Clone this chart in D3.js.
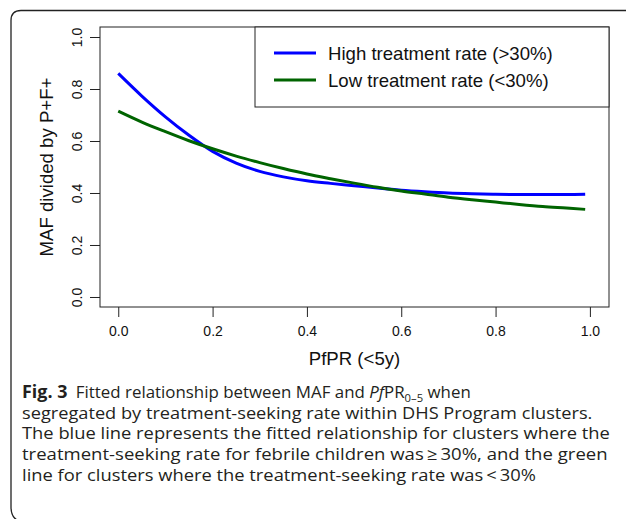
<!DOCTYPE html>
<html>
<head>
<meta charset="utf-8">
<script src="https://cdn.jsdelivr.net/npm/d3@7"></script>
<style>
  body { margin: 0; background: #fff; }
  svg { display: block; }
</style>
</head>
<body>
<div id="chart"></div>
<script>
var pfpr = [0, 0.05, 0.1, 0.15, 0.2, 0.25, 0.3, 0.35, 0.4, 0.45, 0.5,
            0.55, 0.6, 0.65, 0.7, 0.75, 0.8, 0.85, 0.9, 0.95, 0.99];
// high treatment rate (>30%), blue
var highRate = [0.860, 0.773, 0.693, 0.622, 0.560, 0.515, 0.483, 0.462, 0.447, 0.437, 0.428,
                0.419, 0.411, 0.405, 0.400, 0.397, 0.395, 0.394, 0.394, 0.394, 0.395];
// low treatment rate (<30%), green
var lowRate = [0.715, 0.673, 0.636, 0.601, 0.570, 0.542, 0.517, 0.494, 0.473, 0.455, 0.438,
               0.422, 0.408, 0.396, 0.384, 0.374, 0.365, 0.356, 0.348, 0.342, 0.337];

var seriesNames = ["High treatment rate (>30%)", "Low treatment rate (<30%)"];
var seriesColors = ["#0000ff", "#006400"];
var xTicks = [0, 0.2, 0.4, 0.6, 0.8, 1.0];
var yTicks = [0, 0.2, 0.4, 0.6, 0.8, 1.0];

var w = 627;
var h = 519;
var plot = { left: 100, right: 609, top: 27, bottom: 307 };

var svg = d3.select("#chart")
  .append("svg")
  .attr("width", w)
  .attr("height", h);

// outer frame of the figure, open on the right, bottom edge runs off the picture
svg.append("path")
  .attr("d", "M626,10.5 L21,10.5 Q11,10.5 11,20.5 L11,507 Q11,522 26,522 L626,522")
  .attr("fill", "none")
  .attr("stroke", "#222")
  .attr("stroke-width", 1.3);

// R pads the data range by 4% on each side
var x = d3.scaleLinear().domain([-0.0387, 1.0405]).range([plot.left, plot.right]);
var y = d3.scaleLinear().domain([-0.0385, 1.0385]).range([plot.bottom, plot.top]);

var f = d3.format(".1f");

var xAxis = svg.append("g")
  .attr("transform", "translate(0," + plot.bottom + ")")
  .call(d3.axisBottom(x).tickValues(xTicks).tickFormat(f).tickSize(10).tickPadding(9));
var yAxis = svg.append("g")
  .attr("transform", "translate(" + plot.left + ",0)")
  .call(d3.axisLeft(y).tickValues(yTicks).tickFormat(f).tickSize(10).tickPadding(9));

[xAxis, yAxis].forEach(function(g) {
  g.select(".domain").remove();
  g.selectAll(".tick line").attr("stroke", "#222");
  g.selectAll("text")
    .attr("font-family", "'Liberation Sans', Arial, sans-serif")
    .attr("font-size", "14px")
    .attr("fill", "#111");
});

// y tick labels run upwards like in R (las = 0)
yAxis.selectAll(".tick text")
  .attr("transform", "rotate(-90)")
  .attr("x", 0)
  .attr("y", -18)
  .attr("dy", 0)
  .attr("text-anchor", "middle");

// box round the plot
svg.append("rect")
  .attr("x", plot.left)
  .attr("y", plot.top)
  .attr("width", plot.right - plot.left)
  .attr("height", plot.bottom - plot.top)
  .attr("fill", "none")
  .attr("stroke", "#222")
  .attr("stroke-width", 1);

var line = d3.line()
  .x(function(d) { return x(d[0]); })
  .y(function(d) { return y(d[1]); })
  .curve(d3.curveMonotoneX);

[highRate, lowRate].forEach(function(vals, i) {
  svg.append("path")
    .datum(d3.zip(pfpr, vals))
    .attr("d", line)
    .attr("fill", "none")
    .attr("stroke", seriesColors[i])
    .attr("stroke-width", 3);
});

// axis titles
svg.append("text")
  .attr("x", (plot.left + plot.right) / 2)
  .attr("y", 365)
  .attr("text-anchor", "middle")
  .attr("font-family", "'Liberation Sans', Arial, sans-serif")
  .attr("font-size", "18.6px")
  .attr("fill", "#111")
  .text("PfPR (<5y)");

svg.append("text")
  .attr("transform", "translate(53," + (plot.top + plot.bottom) / 2 + ") rotate(-90)")
  .attr("text-anchor", "middle")
  .attr("font-family", "'Liberation Sans', Arial, sans-serif")
  .attr("font-size", "18.6px")
  .attr("fill", "#111")
  .text("MAF divided by P+F+");

// legend, top right corner of the plot
var legend = svg.append("g");
legend.append("rect")
  .attr("x", 255)
  .attr("y", plot.top)
  .attr("width", plot.right - 255)
  .attr("height", 80)
  .attr("fill", "#fff")
  .attr("stroke", "#222")
  .attr("stroke-width", 1);

seriesNames.forEach(function(name, i) {
  var ly = 53 + i * 27;
  legend.append("line")
    .attr("x1", 274).attr("x2", 316)
    .attr("y1", ly).attr("y2", ly)
    .attr("stroke", seriesColors[i])
    .attr("stroke-width", 3);
  legend.append("text")
    .attr("x", 328)
    .attr("y", ly + 6.5)
    .attr("font-family", "'Liberation Sans', Arial, sans-serif")
    .attr("font-size", "18.6px")
    .attr("fill", "#111")
    .text(name);
});

// figure caption
var capFont = "'Open Sans', 'Noto Sans', sans-serif";
var caption = svg.append("g")
  .attr("font-family", capFont)
  .attr("font-size", "16.5px")
  .attr("fill", "#231f20");

var l1 = caption.append("text").attr("x", 0).attr("y", 0);
l1.append("tspan").attr("font-weight", "bold").attr("font-size", "17.5px").text("Fig. 3");
l1.append("tspan").text("\u2002Fitted relationship between MAF and ");
l1.append("tspan").attr("font-style", "italic").text("Pf");
l1.append("tspan").text("PR");
l1.append("tspan").attr("font-size", "11px").attr("dy", 3.5).text("0\u20135");
l1.append("tspan").attr("dy", -3.5).text(" when");

var capLines = [
  "segregated by treatment-seeking rate within DHS Program clusters.",
  "The blue line represents the fitted relationship for clusters where the",
  "treatment-seeking rate for febrile children was\u2009\u2265\u200930%, and the green",
  "line for clusters where the treatment-seeking rate was\u2009<\u200930%"
];
// right ends of the lines in the reference; the last one follows the others
var capEnds = [471, 593, 610, 608];

var capTexts = [l1].concat(capLines.map(function(t) {
  return caption.append("text").attr("x", 0).attr("y", 0).text(t);
}));

// squeeze each line horizontally to the narrower typeface of the reference
var squeeze = (capEnds[2] - 22) / capTexts[2].node().getComputedTextLength();
capTexts.forEach(function(t, i) {
  var natural = t.node().getBBox().width;
  var sx = i < 4 ? (capEnds[i] - 22) / natural : squeeze;
  t.attr("transform", "translate(22," + (398 + i * 20.7) + ") scale(" + sx + ",1)");
});
</script>
</body>
</html>
